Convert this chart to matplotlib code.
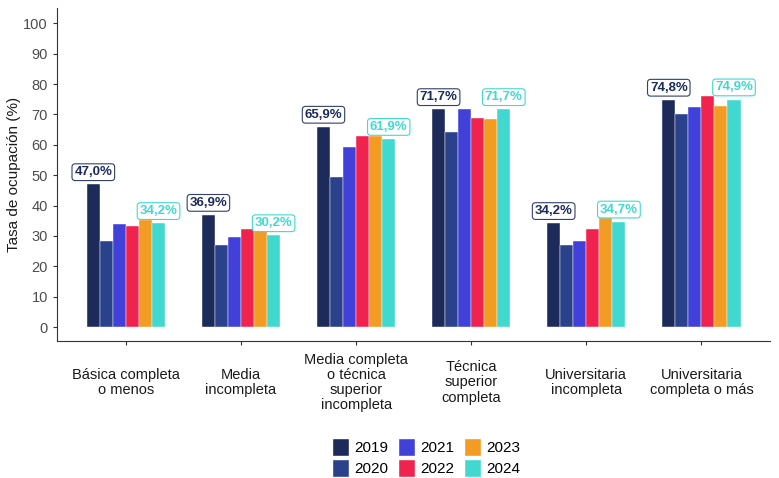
import numpy as np
import matplotlib.pyplot as plt
from matplotlib.patches import Patch

plt.rcParams['font.family'] = ['Liberation Sans', 'DejaVu Sans']

# categories and values (Tasa de ocupación, %)
categorias = ['Básica completa\no menos', 'Media\nincompleta',
              'Media completa\no técnica\nsuperior\nincompleta',
              'Técnica\nsuperior\ncompleta', 'Universitaria\nincompleta',
              'Universitaria\ncompleta o más']
anios = ['2019', '2020', '2021', '2022', '2023', '2024']
v2019 = [47.0, 36.9, 65.9, 71.7, 34.2, 74.8]
v2020 = [28.2, 27.1, 49.5, 64.1, 26.9, 70.2]
v2021 = [34.1, 29.8, 59.2, 71.9, 28.4, 72.6]
v2022 = [33.3, 32.3, 62.8, 68.8, 32.4, 76.1]
v2023 = [35.4, 31.5, 62.9, 68.4, 35.9, 72.7]
v2024 = [34.2, 30.2, 61.9, 71.7, 34.7, 74.9]
series = [v2019, v2020, v2021, v2022, v2023, v2024]
colores = ['#1c2b5a', '#2a418c', '#4141d9', '#f0234f', '#f39c24', '#41d9cf']

fig = plt.figure(figsize=(7.79, 4.78), dpi=100)
ax = fig.add_axes([0.073, 0.287, 0.916, 0.696])

x = np.arange(1, len(categorias) + 1)
dodge = 0.68
w = dodge / len(series)
for i, (vals, c) in enumerate(zip(series, colores)):
    pos = x - dodge / 2 + w * (i + 0.5)
    ax.bar(pos, vals, width=w, color=c, edgecolor='white', linewidth=0.3)
    if i in (0, len(series) - 1):
        for px, v in zip(pos, vals):
            ax.text(px, v + 4.0, f"{v:.1f}%".replace('.', ','), ha='center', va='center',
                    fontsize=9.5, fontweight='bold', color=c,
                    bbox=dict(boxstyle='round,pad=0.18,rounding_size=0.25', fc='white',
                              ec=c, lw=0.8, alpha=0.9 if i == 0 else 1))

ax.set_xlim(0.4, 6.6)
ax.set_ylim(-4.5, 105)
ax.set_yticks(range(0, 101, 10))
ax.set_xticks(x)
ax.set_xticklabels(categorias, fontsize=10.5, color='#1a1a1a', va='center', linespacing=1.12)
ax.tick_params(axis='y', labelsize=10.5, labelcolor='#4d4d4d', length=3, color='#333333')
ax.tick_params(axis='x', length=3, color='#333333', pad=27)
ax.set_ylabel('Tasa de ocupación (%)', fontsize=11, color='#1a1a1a')
ax.yaxis.set_label_coords(-0.05, 0.5)
for s in ['top', 'right']:
    ax.spines[s].set_visible(False)
for s in ['left', 'bottom']:
    ax.spines[s].set_color('#333333')

handles = [Patch(facecolor=c, edgecolor='white', label=a) for a, c in zip(anios, colores)]
fig.legend(handles=handles, loc='lower center', bbox_to_anchor=(0.547, -0.026), ncol=3,
           frameon=False, fontsize=11, handlelength=1.15, handleheight=1.4,
           columnspacing=0.6, handletextpad=0.35, labelspacing=0.2)

fig.savefig('out.png', dpi=100)
